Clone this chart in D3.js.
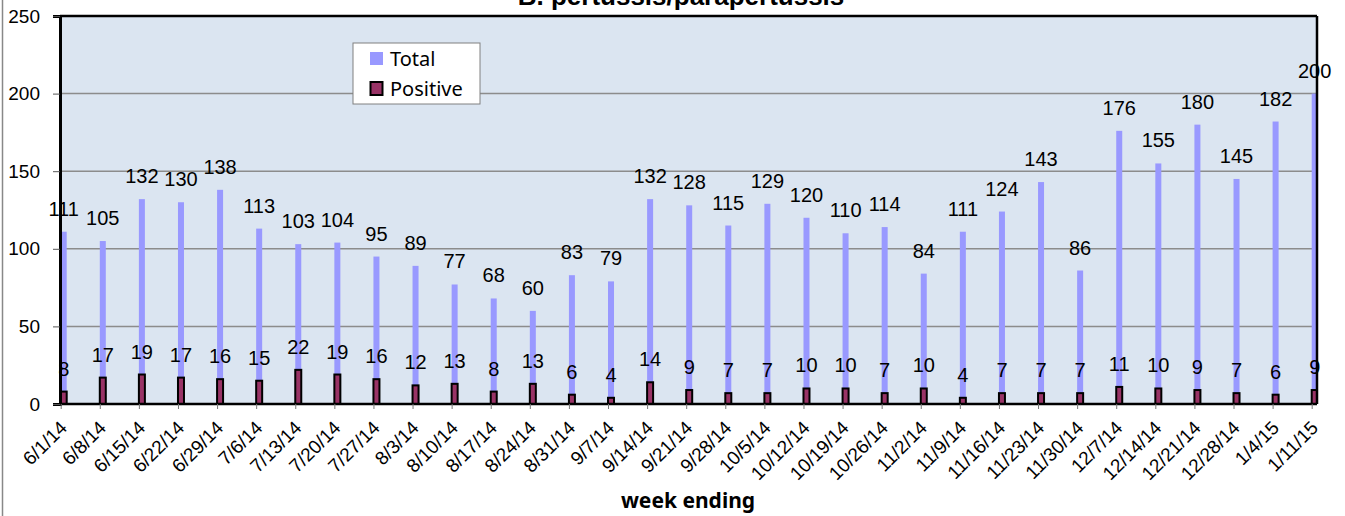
<!DOCTYPE html>
<html>
<head>
<meta charset="utf-8">
<script src="https://cdn.jsdelivr.net/npm/d3@7"></script>
<style>
    body { margin: 0; background: #fff; }
    svg { display: block; }
</style>
</head>
<body>
<svg></svg>
<script>

/*
*   Data
*/

const WEEKS = ['6/1/14', '6/8/14', '6/15/14', '6/22/14', '6/29/14', '7/6/14', '7/13/14', '7/20/14', '7/27/14',
    '8/3/14', '8/10/14', '8/17/14', '8/24/14', '8/31/14', '9/7/14', '9/14/14', '9/21/14', '9/28/14', '10/5/14',
    '10/12/14', '10/19/14', '10/26/14', '11/2/14', '11/9/14', '11/16/14', '11/23/14', '11/30/14', '12/7/14',
    '12/14/14', '12/21/14', '12/28/14', '1/4/15', '1/11/15']
const TOTAL = [111, 105, 132, 130, 138, 113, 103, 104, 95, 89, 77, 68, 60, 83, 79, 132, 128, 115, 129, 120, 110,
    114, 84, 111, 124, 143, 86, 176, 155, 180, 145, 182, 200]
const POSITIVE = [8, 17, 19, 17, 16, 15, 22, 19, 16, 12, 13, 8, 13, 6, 4, 14, 9, 7, 7, 10, 10, 7, 10, 4, 7, 7, 7,
    11, 10, 9, 7, 6, 9]
const Y_TICKS = [0, 50, 100, 150, 200, 250]
const SERIES = ['Total', 'Positive']


/*
*   Colors
*/

const COLORS = {
    plot: '#dbe5f1',
    total: '#9999ff',
    positive: '#993366',
    grid: '#8c8c8c',
    frame: '#888888',
}


/*
*   Constants
*/

const WIDTH = 1345
const HEIGHT = 516
const PLOT = { left: 60, right: 1317, top: 16, bottom: 404 }
const BAR_WIDTH = 6
const LABEL_FONT = 'Liberation Sans, Arial, sans-serif'
const CALIBRI_LIKE = 'Noto Sans, sans-serif'


/*
*   Scales
*/

const x = d3.scalePoint()
    .domain(WEEKS)
    .range([60.7, 1311.7])

const y = d3.scaleLinear()
    .domain([0, 250])
    .range([PLOT.bottom, PLOT.top])


/*
*   Execution entry point.
*/

const svg = d3.select('svg')
    .attr('width', WIDTH)
    .attr('height', HEIGHT)

// outer chart frame (only the left edge is visible)
svg.append('line')
    .attr('x1', 2.5).attr('x2', 2.5)
    .attr('y1', 0).attr('y2', HEIGHT)
    .attr('stroke', COLORS.frame)
    .attr('stroke-width', 1.5)

svg.append('defs').append('clipPath')
    .attr('id', 'plot-clip')
    .append('rect')
    .attr('x', PLOT.left).attr('y', PLOT.top)
    .attr('width', PLOT.right - PLOT.left)
    .attr('height', PLOT.bottom - PLOT.top)

svg.append('rect')
    .attr('x', PLOT.left).attr('y', PLOT.top)
    .attr('width', PLOT.right - PLOT.left)
    .attr('height', PLOT.bottom - PLOT.top)
    .attr('fill', COLORS.plot)

// gridlines
svg.append('g')
    .selectAll('line')
    .data(Y_TICKS.filter(d => d > 0 && d < 250))
    .join('line')
    .attr('x1', PLOT.left).attr('x2', PLOT.right)
    .attr('y1', d => y(d)).attr('y2', d => y(d))
    .attr('stroke', COLORS.grid)
    .attr('stroke-width', 1.5)

// bars
const bars = svg.append('g').attr('clip-path', 'url(#plot-clip)')

bars.selectAll('rect.total')
    .data(TOTAL)
    .join('rect')
    .attr('class', 'total')
    .attr('x', (d, i) => x(WEEKS[i]))
    .attr('y', d => y(d))
    .attr('width', BAR_WIDTH)
    .attr('height', d => y(0) - y(d))
    .attr('fill', COLORS.total)

bars.selectAll('rect.positive')
    .data(POSITIVE)
    .join('rect')
    .attr('class', 'positive')
    .attr('x', (d, i) => x(WEEKS[i]))
    .attr('y', d => y(d))
    .attr('width', BAR_WIDTH)
    .attr('height', d => y(0) - y(d))
    .attr('fill', COLORS.positive)
    .attr('stroke', '#000')
    .attr('stroke-width', 2)

// plot frame: top + right borders
const frame = svg.append('g').attr('stroke', '#000').attr('stroke-width', 2.5)
frame.append('line').attr('x1', PLOT.left).attr('x2', PLOT.right).attr('y1', PLOT.top).attr('y2', PLOT.top)
frame.append('line').attr('x1', PLOT.right).attr('x2', PLOT.right).attr('y1', PLOT.top).attr('y2', PLOT.bottom)

// y axis
const yAxis = svg.append('g')
    .attr('transform', `translate(${PLOT.left},0)`)
    .call(d3.axisLeft(y).tickValues(Y_TICKS).tickSize(7).tickPadding(13))
yAxis.select('.domain').attr('stroke', '#000').attr('stroke-width', 3)
yAxis.selectAll('.tick line').attr('stroke', '#555').attr('stroke-width', 1)
yAxis.selectAll('.tick text')
    .attr('font-family', LABEL_FONT)
    .attr('font-size', 19)
    .attr('fill', '#000')

// x axis
const xAxis = svg.append('g')
    .attr('transform', `translate(0,${PLOT.bottom})`)
    .call(d3.axisBottom(x).tickSize(5).tickSizeOuter(0))
xAxis.select('.domain').attr('stroke', '#000').attr('stroke-width', 2.5)
    .attr('d', `M${PLOT.left},0H${PLOT.right}`)
xAxis.selectAll('.tick line').attr('stroke', '#777').attr('stroke-width', 1)
xAxis.selectAll('.tick text')
    .attr('font-family', LABEL_FONT)
    .attr('font-size', 19)
    .attr('fill', '#000')
    .attr('text-anchor', 'end')
    .attr('dy', 0)
    .attr('y', 0)
    .attr('transform', 'translate(7,25) rotate(-45)')

// data labels
const labels = svg.append('g')
    .attr('font-family', LABEL_FONT)
    .attr('font-size', 20)
    .attr('text-anchor', 'middle')
    .attr('fill', '#000')

labels.selectAll('text.total')
    .data(TOTAL)
    .join('text')
    .attr('class', 'total')
    .attr('x', (d, i) => x(WEEKS[i]) + BAR_WIDTH / 2)
    .attr('y', d => y(d) - 16)
    .text(d => d)

labels.selectAll('text.positive')
    .data(POSITIVE)
    .join('text')
    .attr('class', 'positive')
    .attr('x', (d, i) => x(WEEKS[i]) + BAR_WIDTH / 2)
    .attr('y', d => y(d) - 16)
    .text(d => d)

// legend
const legend = svg.append('g').attr('transform', 'translate(353,43)')
legend.append('rect')
    .attr('width', 127).attr('height', 61)
    .attr('fill', '#fff')
    .attr('stroke', '#808080')
    .attr('stroke-width', 1)

const items = legend.selectAll('g.item')
    .data(SERIES)
    .join('g')
    .attr('class', 'item')
    .attr('transform', (d, i) => `translate(0,${16 + i * 30})`)

items.append('rect')
    .attr('x', (d, i) => i ? 17.5 : 17)
    .attr('y', -7)
    .attr('width', (d, i) => i ? 12 : 13)
    .attr('height', 13)
    .attr('fill', (d, i) => i ? COLORS.positive : COLORS.total)
    .attr('stroke', (d, i) => i ? '#000' : 'none')
    .attr('stroke-width', 2)

items.append('text')
    .attr('x', 37)
    .attr('y', 7)
    .attr('font-family', CALIBRI_LIKE)
    .attr('font-size', 20)
    .attr('fill', '#000')
    .text(d => d)

// title (cut off at the top, as in the source)
svg.append('text')
    .attr('x', 681)
    .attr('y', 5)
    .attr('text-anchor', 'middle')
    .attr('font-family', LABEL_FONT)
    .attr('font-weight', 'bold')
    .attr('font-size', 26)
    .text('B. pertussis/parapertussis')

// axis title
svg.append('text')
    .attr('x', 688)
    .attr('y', 508)
    .attr('text-anchor', 'middle')
    .attr('font-family', CALIBRI_LIKE)
    .attr('font-weight', 'bold')
    .attr('font-size', 21)
    .text('week ending')

</script>
</body>
</html>
